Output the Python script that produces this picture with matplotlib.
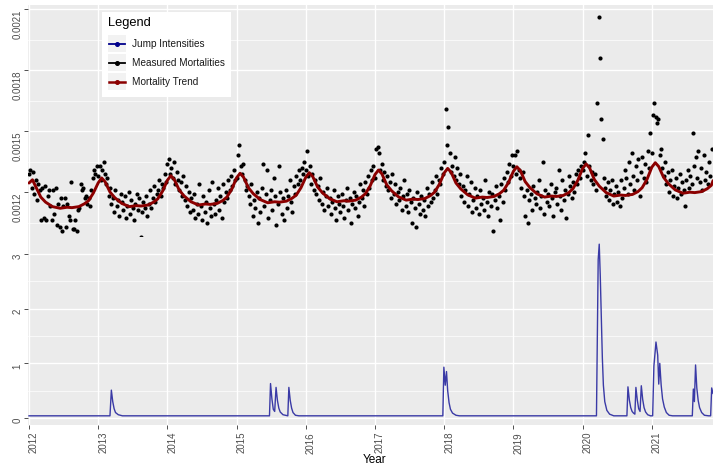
import numpy as np
import matplotlib
matplotlib.use("Agg")
import matplotlib.pyplot as plt
from matplotlib.lines import Line2D
from matplotlib.patches import Rectangle

# ---------------- data ----------------
years = list(range(2012, 2022))
year_labels = [str(y) for y in years]

MORT_UNIT = 1e-5  # measured / trend values below are in units of 1e-5

mort_2012 = [129, 131, 122, 130, 119, 126, 116, 124, 121,
             106, 122, 107, 123, 106, 118, 121, 113, 106,
             121, 109, 122, 104, 114, 103, 117, 101, 113,
             117, 103, 114, 108, 106, 125, 102, 102, 106,
             101, 111, 112, 124, 121, 122, 117, 118, 114,
             117, 113, 121, 127, 131, 129, 133]
mort_2013 = [128, 133, 126, 131, 135, 129, 124, 127, 118,
             122, 114, 117, 110, 121, 113, 116, 108, 119,
             115, 111, 118, 107, 113, 120, 109, 116, 112,
             106, 114, 119, 111, 117, 98, 110, 115, 112,
             118, 108, 114, 121, 112, 117, 123, 115, 119,
             121, 126, 118, 124, 122, 129, 125]
mort_2014 = [134, 136, 129, 132, 127, 135, 124, 130, 126,
             121, 125, 118, 128, 116, 123, 113, 120, 110,
             117, 111, 119, 107, 114, 109, 124, 113, 106,
             118, 110, 115, 105, 121, 112, 108, 125, 114,
             109, 116, 122, 111, 118, 107, 124, 115, 120,
             117, 126, 121, 128, 123, 131, 126]
mort_2015 = [127, 138, 143, 133, 129, 134, 126, 121, 123,
             118, 114, 124, 108, 116, 112, 120, 105, 117,
             110, 122, 134, 113, 119, 131, 107, 116, 121,
             111, 127, 118, 104, 114, 133, 120, 109, 117,
             106, 121, 112, 118, 126, 115, 110, 123, 119,
             128, 124, 131, 126, 132, 129, 135]
mort_2016 = [131, 140, 128, 133, 124, 129, 121, 126, 119,
             123, 116, 127, 114, 120, 111, 118, 122, 113,
             117, 109, 115, 121, 112, 106, 118, 114, 110,
             119, 113, 107, 116, 122, 111, 117, 105, 114,
             120, 112, 118, 108, 115, 124, 117, 121, 113,
             125, 119, 128, 122, 131, 126, 133]
mort_2017 = [127, 141, 142, 139, 131, 134, 126, 130, 123,
             128, 121, 125, 117, 129, 119, 124, 114, 120,
             116, 122, 111, 118, 126, 113, 119, 110, 121,
             115, 105, 117, 112, 103, 120, 114, 109, 118,
             111, 116, 108, 122, 113, 119, 115, 125, 117,
             121, 128, 119, 126, 124, 132, 129]
mort_2018 = [135, 161, 143, 152, 139, 130, 133, 128, 137,
             126, 132, 124, 129, 118, 123, 115, 121, 128,
             113, 119, 125, 110, 116, 122, 112, 118, 109,
             121, 114, 117, 111, 126, 115, 108, 120, 113,
             119, 101, 116, 123, 112, 118, 106, 124, 115,
             127, 121, 130, 125, 134, 128, 138]
mort_2019 = [133, 138, 129, 140, 131, 127, 122, 130, 118,
             108, 121, 105, 116, 119, 111, 123, 117, 114,
             120, 126, 112, 118, 135, 109, 121, 115, 119,
             113, 124, 117, 108, 120, 122, 114, 131, 118,
             111, 126, 116, 121, 107, 119, 128, 123, 117,
             125, 120, 129, 124, 131, 127, 133]
mort_2020 = [131, 135, 139, 128, 148, 133, 126, 130, 124,
             129, 121, 164, 206, 186, 156, 146, 127, 122,
             118, 125, 116, 121, 126, 114, 119, 123, 115,
             120, 113, 126, 117, 122, 131, 127, 119, 135,
             124, 139, 128, 121, 133, 126, 136, 118, 130,
             137, 127, 134, 125, 140, 132, 149]
mort_2021 = [139, 158, 164, 157, 154, 156, 138, 141, 132,
             128, 135, 124, 130, 120, 126, 131, 118, 123,
             127, 117, 122, 129, 119, 125, 121, 113, 126,
             131, 122, 128, 124, 149, 133, 137, 127, 140,
             125, 132, 121, 138, 126, 130, 124, 135, 128, 141]

measured_by_year = [mort_2012, mort_2013, mort_2014, mort_2015, mort_2016,
                    mort_2017, mort_2018, mort_2019, mort_2020, mort_2021]

trend_frac = [0.0, 0.05, 0.10, 0.17, 0.24, 0.34, 0.45, 0.55, 0.62, 0.72, 0.80, 0.86, 0.93]
trend_2012 = [124.4, 126.0, 122.5, 117.5, 115.0, 112.8, 112.0, 112.5, 112.3, 112.8, 114.2, 115.7, 119.5]
trend_2013 = [124.5, 126.9, 125.0, 120.0, 117.2, 114.4, 112.8, 113.3, 113.1, 113.6, 115.0, 116.6, 120.4]
trend_2014 = [125.8, 128.0, 126.1, 121.0, 118.1, 115.2, 113.6, 114.1, 113.9, 114.4, 115.8, 117.5, 121.4]
trend_2015 = [127.0, 129.2, 127.3, 122.1, 119.2, 116.3, 114.7, 115.2, 115.0, 115.5, 116.9, 118.4, 122.1]
trend_2016 = [127.3, 129.5, 127.6, 122.5, 119.6, 116.8, 115.2, 115.7, 115.5, 116.0, 117.4, 119.1, 123.0]
trend_2017 = [128.6, 130.8, 128.9, 123.5, 120.6, 117.6, 116.0, 116.5, 116.3, 116.8, 118.2, 119.9, 123.8]
trend_2018 = [129.4, 131.6, 129.7, 124.4, 121.5, 118.6, 117.0, 117.5, 117.3, 117.8, 119.2, 120.9, 124.7]
trend_2019 = [130.2, 132.4, 130.5, 125.1, 122.1, 119.1, 117.5, 118.0, 117.8, 118.3, 119.7, 121.6, 125.7]
trend_2020 = [131.6, 133.8, 131.9, 126.1, 122.9, 119.7, 118.0, 118.5, 118.3, 118.8, 120.2, 122.1, 126.2]
trend_2021 = [132.2, 134.4, 132.5, 127.2, 124.1, 121.0, 119.4, 119.9, 119.7, 120.2, 121.6, 123.3]
trend_end_x = 2021.885
trend_end_y = 125.6
trend_by_year = [trend_2012, trend_2013, trend_2014, trend_2015, trend_2016,
                 trend_2017, trend_2018, trend_2019, trend_2020, trend_2021]

jump_x = [2012.0, 2013.17, 2013.19, 2013.21, 2013.23, 2013.25, 2013.29, 2013.35,
          2015.475, 2015.49, 2015.51, 2015.53, 2015.55, 2015.57, 2015.59, 2015.61, 2015.63,
          2015.67, 2015.74, 2015.755, 2015.775, 2015.795, 2015.815, 2015.85, 2015.9,
          2017.98, 2017.995, 2018.015, 2018.033, 2018.05, 2018.07, 2018.09, 2018.12, 2018.17, 2018.22,
          2020.2, 2020.225, 2020.24, 2020.255, 2020.27, 2020.285, 2020.3, 2020.32, 2020.35, 2020.39, 2020.45,
          2020.64, 2020.655, 2020.675, 2020.695, 2020.715, 2020.735, 2020.755, 2020.77, 2020.79,
          2020.81, 2020.83, 2020.848, 2020.868, 2020.888, 2020.91, 2020.94, 2020.98,
          2021.012, 2021.03, 2021.06, 2021.085, 2021.1, 2021.115, 2021.135, 2021.155, 2021.18,
          2021.21, 2021.25, 2021.3,
          2021.585, 2021.6, 2021.615, 2021.632, 2021.65, 2021.67, 2021.69, 2021.72, 2021.76,
          2021.82, 2021.85, 2021.865, 2021.884]
jump_y = [0.04, 0.04, 0.51, 0.30, 0.17, 0.10, 0.06, 0.04,
          0.04, 0.63, 0.35, 0.16, 0.12, 0.56, 0.32, 0.18, 0.11,
          0.06, 0.04, 0.56, 0.32, 0.18, 0.10, 0.05, 0.04,
          0.04, 0.93, 0.60, 0.85, 0.50, 0.28, 0.16, 0.09, 0.05, 0.04,
          0.04, 2.90, 3.18, 2.60, 1.85, 1.10, 0.60, 0.30, 0.14, 0.07, 0.04,
          0.04, 0.57, 0.33, 0.19, 0.12, 0.09, 0.07, 0.56, 0.33,
          0.17, 0.12, 0.59, 0.34, 0.19, 0.11, 0.06, 0.04,
          0.04, 0.95, 1.39, 1.15, 0.62, 1.00, 0.60, 0.35, 0.20,
          0.10, 0.05, 0.04,
          0.04, 0.53, 0.30, 0.97, 0.55, 0.32, 0.19, 0.10, 0.05,
          0.04, 0.04, 0.55, 0.45]

legend_title = "Legend"
legend_labels = ["Jump Intensities", "Measured Mortalities", "Mortality Trend"]

# ---------------- figure ----------------
W, H = 713, 465
fig = plt.figure(figsize=(W / 100, H / 100), dpi=100)
FONT = "Liberation Sans"
TXT = "#4D4D4D"
BG = "#EBEBEB"

def fx(px):
    return px / W

def fy(py):
    return 1 - py / H

left_px, right_px = 28, 713
ax_top = fig.add_axes([fx(left_px), fy(237), fx(right_px - left_px), (237 - 5) / H])
ax_bot = fig.add_axes([fx(left_px), fy(425), fx(right_px - left_px), (425 - 237) / H])

XLIM = (2011.9855, 2021.884)

# measured points
mx, my = [], []
for yr, vals in zip(years, measured_by_year):
    for i, v in enumerate(vals):
        mx.append(yr + i / 52.18)
        my.append(v * MORT_UNIT)

tx, ty = [], []
for yr, vals in zip(years, trend_by_year):
    for f, v in zip(trend_frac, vals):
        tx.append(yr + f)
        ty.append(v * MORT_UNIT)
tx.append(trend_end_x)
ty.append(trend_end_y * MORT_UNIT)

for ax in (ax_top, ax_bot):
    ax.set_facecolor(BG)
    for s in ax.spines.values():
        s.set_visible(False)
    ax.set_xlim(*XLIM)
    ax.set_xticks(years)
    ax.grid(True, which="major", color="white", lw=1.0)
    ax.yaxis.grid(True, which="minor", color="white", lw=0.5)
    ax.set_axisbelow(True)
    ax.tick_params(axis="both", which="major", length=3, width=0.6, color="#333333",
                   labelsize=7, labelcolor=TXT, pad=2)
    ax.tick_params(axis="y", which="major", pad=1)
    ax.tick_params(axis="both", which="minor", length=0)

ax_top.scatter(mx, my, s=9, color="black", linewidths=0, zorder=3)
ax_top.plot(tx, ty, color="#8B0000", lw=2.1, zorder=4, solid_capstyle="round")
ax_top.set_ylim(0.0009787, 0.0021197)
ax_top.set_yticks([0.0012, 0.0015, 0.0018, 0.0021])
ax_top.set_yticklabels(["0.0012", "0.0015", "0.0018", "0.0021"])
ax_top.set_yticks([0.00105, 0.00135, 0.00165, 0.00195], minor=True)
ax_top.tick_params(axis="x", which="major", length=0, labelbottom=False)

ax_bot.plot(jump_x, jump_y, color="#3A3AA6", lw=1.0, zorder=3)
ax_bot.set_ylim(-0.128, 3.311)
ax_bot.set_yticks([0, 1, 2, 3])
ax_bot.set_yticklabels(["0", "1", "2", "3"])
ax_bot.set_yticks([0.5, 1.5, 2.5], minor=True)
ax_bot.set_xticklabels(year_labels)

for ax in (ax_top, ax_bot):
    for lab in ax.get_yticklabels():
        lab.set_rotation(90)
        lab.set_va("top")
        lab.set_fontfamily(FONT)
for lab in ax_bot.get_xticklabels():
    lab.set_rotation(90)
    lab.set_ha("left")
    lab.set_fontfamily(FONT)

fig.text(fx(375), fy(460), "Year", ha="center", va="center", fontsize=8.5,
         color="black", family=FONT)

# legend (drawn in figure pixel coordinates)
fig.patches.append(Rectangle((fx(101.7), fy(96.7)), fx(231 - 101.7), (96.7 - 12.3) / H,
                             transform=fig.transFigure, facecolor="white", edgecolor="none",
                             zorder=10))
fig.text(fx(108), fy(23), legend_title, ha="left", va="center", fontsize=9.3,
         color="black", family=FONT, zorder=11)
key_colors = ["#00008B", "black", "#8B0000"]
key_lw = [1.3, 1.3, 1.8]
rows = [43.7, 62.7, 82.0]
for lab, col, lw, cy in zip(legend_labels, key_colors, key_lw, rows):
    fig.patches.append(Rectangle((fx(107.7), fy(cy + 8.5)), fx(18), 17 / H,
                                 transform=fig.transFigure, facecolor="#F2F2F2",
                                 edgecolor="none", zorder=11))
    fig.lines.append(Line2D([fx(109), fx(124.5)], [fy(cy), fy(cy)], transform=fig.transFigure,
                            color=col, lw=lw, zorder=12))
    fig.lines.append(Line2D([fx(116.7)], [fy(cy)], transform=fig.transFigure, marker="o",
                            ms=2.6, color=col, lw=0, zorder=13))
    fig.text(fx(132.3), fy(cy), lab, ha="left", va="center", fontsize=7.2,
             color="#1A1A1A", family=FONT, zorder=12)

fig.savefig("out.png", dpi=100)
